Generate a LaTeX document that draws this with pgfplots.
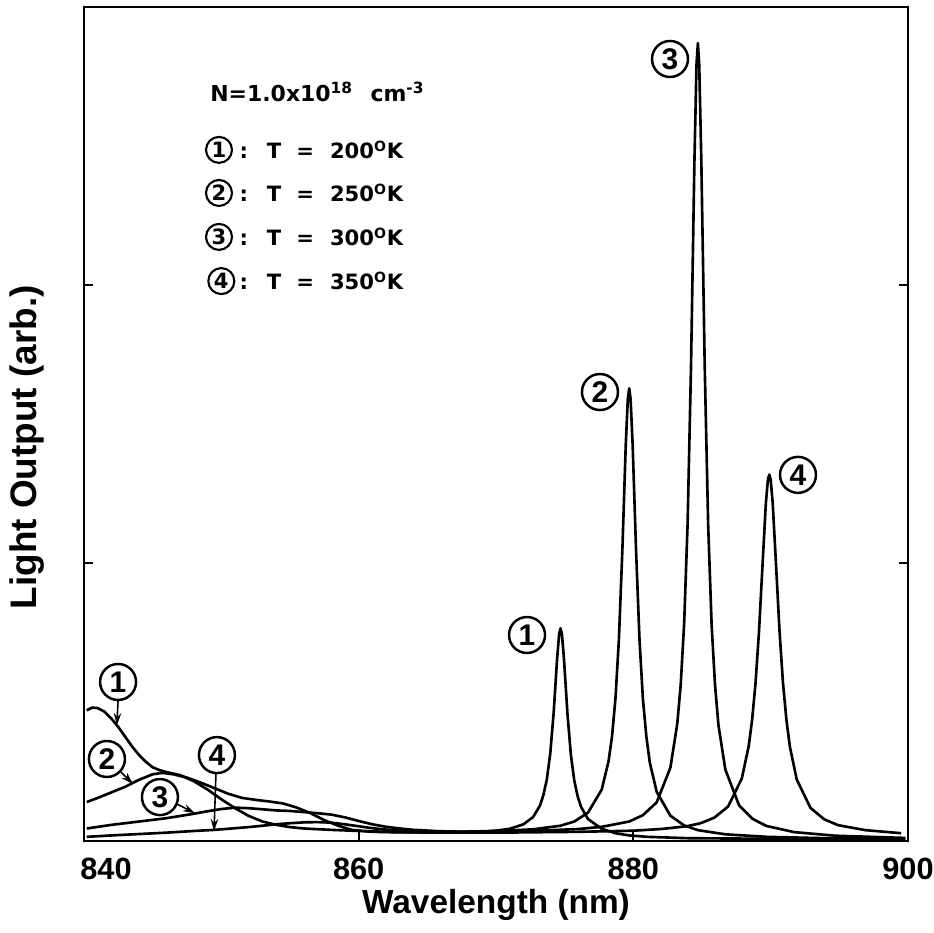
\documentclass[border=0pt]{standalone}
\usepackage{pgfplots}
\pgfplotsset{compat=1.18}
\usepackage{fontspec}
\setmainfont{Liberation Sans}
\newfontfamily\legfont{DejaVu Sans}
\usetikzlibrary{arrows.meta}

\pgfplotstableread{
x y
840.2 0.47
840.6 0.48
841.0 0.478
841.5 0.465
842.0 0.44
842.5 0.41
843.0 0.375
843.5 0.34
844.0 0.31
844.5 0.285
845.0 0.265
845.5 0.255
846.0 0.248
847.0 0.237
848.0 0.215
849.0 0.185
850.0 0.15
851.0 0.118
852.0 0.09
853.0 0.07
854.0 0.058
855.0 0.05
856.0 0.045
858.0 0.04
860.0 0.036
862.0 0.033
864.0 0.031
866.0 0.03
868.0 0.031
869.0 0.033
870.0 0.037
871.0 0.044
872.0 0.060
872.7 0.086
873.2 0.127
873.45 0.165
873.7 0.221
873.95 0.314
874.2 0.462
874.45 0.656
874.6 0.745
874.7 0.765
874.8 0.744
874.95 0.655
875.2 0.46
875.45 0.311
875.7 0.217
875.95 0.16
876.2 0.122
876.7 0.079
877.7 0.0435
878.7 0.028
879.7 0.02
881.0 0.015
884.0 0.01
890.0 0.008
899.8 0.006
}\curveA

\pgfplotstableread{
x y
840.2 0.14
841 0.155
842 0.175
843 0.195
844 0.22
845 0.24
845.7 0.245
846.5 0.24
847.5 0.228
848.5 0.21
849.5 0.19
850.5 0.17
851.5 0.155
852.5 0.148
853.5 0.142
854.5 0.135
855.5 0.12
856.5 0.1
857.5 0.075
858.5 0.055
859.5 0.04
861 0.033
863 0.031
865 0.032
867 0.033
869 0.035
871 0.038
872.7 0.042
874.7 0.055
875.7 0.07
876.7 0.102
877.7 0.185
878.2 0.288
878.45 0.377
878.7 0.513
878.95 0.726
879.2 1.045
879.45 1.427
879.6 1.592
879.7 1.628
879.8 1.59
879.95 1.426
880.2 1.043
880.45 0.723
880.7 0.509
880.95 0.375
881.2 0.282
881.7 0.177
882.7 0.091
883.7 0.056
884.7 0.039
886.7 0.024
889.7 0.015
894 0.010
899.8 0.008
}\curveB

\pgfplotstableread{
x y
840.2 0.045
842 0.058
844 0.07
846 0.082
848 0.098
849 0.107
850 0.115
851 0.12
852 0.118
853 0.114
854 0.11
855 0.108
856 0.104
857 0.1
858 0.095
859 0.085
860 0.072
861 0.06
862 0.051
863 0.045
864 0.04
866 0.035
868 0.033
870 0.035
872 0.036
874 0.039
876 0.043
877.7 0.051
879.7 0.07
880.7 0.093
881.7 0.139
882.7 0.264
883.2 0.422
883.45 0.562
883.7 0.782
883.95 1.138
884.2 1.706
884.45 2.45
884.6 2.793
884.7 2.87
884.8 2.79
884.95 2.449
885.2 1.704
885.45 1.135
885.7 0.778
885.95 0.56
886.2 0.416
886.7 0.257
887.7 0.128
888.7 0.079
889.7 0.054
891.7 0.032
894.7 0.019
899.8 0.011
}\curveC

\pgfplotstableread{
x y
840.2 0.015
842 0.02
844 0.025
846 0.03
848 0.036
849.5 0.04
851 0.046
852 0.05
853 0.055
854 0.06
855 0.064
856 0.067
857 0.068
858 0.066
859 0.06
860 0.053
861 0.046
862 0.041
863 0.037
864 0.034
866 0.031
868 0.030
870 0.030
872 0.031
874 0.032
876 0.033
878 0.035
880 0.037
882 0.043
883.9 0.053
884.9 0.064
885.9 0.084
886.9 0.124
887.9 0.225
888.4 0.341
888.65 0.436
888.9 0.569
889.15 0.753
889.4 0.986
889.65 1.215
889.8 1.30
889.9 1.318
890.0 1.30
890.15 1.214
890.4 0.985
890.65 0.751
890.9 0.567
891.15 0.435
891.4 0.3385
891.9 0.221
892.9 0.119
893.9 0.078
894.9 0.057
896.9 0.039
899.5 0.028
}\curveD

\newcommand{\legrow}[1]{:\hspace{3.8mm}T\hspace{3.0mm}=\hspace{3.2mm}#1\textsuperscript{O}K}

\begin{document}
\begin{tikzpicture}[
  circ/.style={draw, circle, line width=1.4pt, inner sep=0pt, minimum size=7.2mm,
    font=\fontsize{17}{19}\selectfont\bfseries},
  lcirc/.style={draw, circle, line width=1.2pt, inner sep=0pt, minimum size=5.2mm,
    font=\legfont\fontsize{12}{13}\selectfont\bfseries},
  arr/.style={-{Stealth[length=2.4mm,width=1.5mm]}, line width=0.9pt},
  ltxt/.style={anchor=west, inner sep=0pt, font=\legfont\fontsize{12}{14}\selectfont\bfseries}
]
\begin{axis}[
  scale only axis, width=164.8mm, height=166.8mm,
  xmin=840, xmax=900, ymin=0, ymax=3,
  xtick={840,860,880,900},
  xticklabels={\hspace*{8.8mm}840,860,880,900},
  ytick={1,2}, yticklabels={},
  tick align=inside, xtick pos=left, ytick pos=both,
  axis line style={line width=1.6pt},
  major tick length=1.8mm,
  tick style={line width=1pt, black},
  /pgf/number format/assume math mode=true,
  ticklabel style={font=\fontsize{17.5}{20}\selectfont\bfseries},
  xticklabel style={yshift=-2.2mm},
  xlabel={Wavelength (nm)},
  ylabel={Light Output (arb.)},
  xlabel style={font=\fontsize{19}{22}\selectfont\bfseries, at={(axis description cs:0.5,-0.0767)}, anchor=center},
  ylabel style={font=\fontsize{21}{24}\selectfont\bfseries, at={(axis description cs:-0.069,0.472)}, anchor=center, rotate=0},
  clip=false,
]
\addplot[black, line width=1.5pt, line join=round, mark=none] table {\curveA};
\addplot[black, line width=1.5pt, line join=round, mark=none] table {\curveB};
\addplot[black, line width=1.5pt, line join=round, mark=none] table {\curveC};
\addplot[black, line width=1.5pt, line join=round, mark=none] table {\curveD};

% peak labels
\node[circ] at (axis cs:882.67,2.813) {3};
\node[circ] at (axis cs:877.57,1.615) {2};
\node[circ] at (axis cs:891.99,1.317) {4};
\node[circ] at (axis cs:872.26,0.741) {1};

% left labels with arrows
\node[circ] at (axis cs:842.48,0.572) {1};
\draw[arr] (axis cs:842.48,0.507) -- (axis cs:842.40,0.417);
\node[circ] at (axis cs:841.67,0.295) {2};
\draw[arr] (axis cs:842.69,0.248) -- (axis cs:843.57,0.205);
\node[circ] at (axis cs:845.53,0.158) {3};
\draw[arr] (axis cs:846.77,0.133) -- (axis cs:848.08,0.10);
\node[circ] at (axis cs:849.68,0.309) {4};
\draw[arr] (axis cs:849.61,0.245) -- (axis cs:849.47,0.036);

% legend block
\node[ltxt, font=\legfont\fontsize{12.5}{14}\selectfont\bfseries] at (axis cs:849.17,2.694) {N=1.0x10\textsuperscript{18}\hspace{3.5mm}cm\textsuperscript{-3}};
\node[lcirc] at (axis cs:849.83,2.486) {1};
\node[ltxt] at (axis cs:851.3,2.486) {\legrow{200}};
\node[lcirc] at (axis cs:849.83,2.331) {2};
\node[ltxt] at (axis cs:851.3,2.331) {\legrow{250}};
\node[lcirc] at (axis cs:849.83,2.173) {3};
\node[ltxt] at (axis cs:851.3,2.173) {\legrow{300}};
\node[lcirc] at (axis cs:850.0,2.014) {4};
\node[ltxt] at (axis cs:851.3,2.014) {\legrow{350}};
\end{axis}
\pgfresetboundingbox
\path (-16.8mm,-18.4mm) rectangle (170mm,168.2mm);
\end{tikzpicture}
\end{document}
